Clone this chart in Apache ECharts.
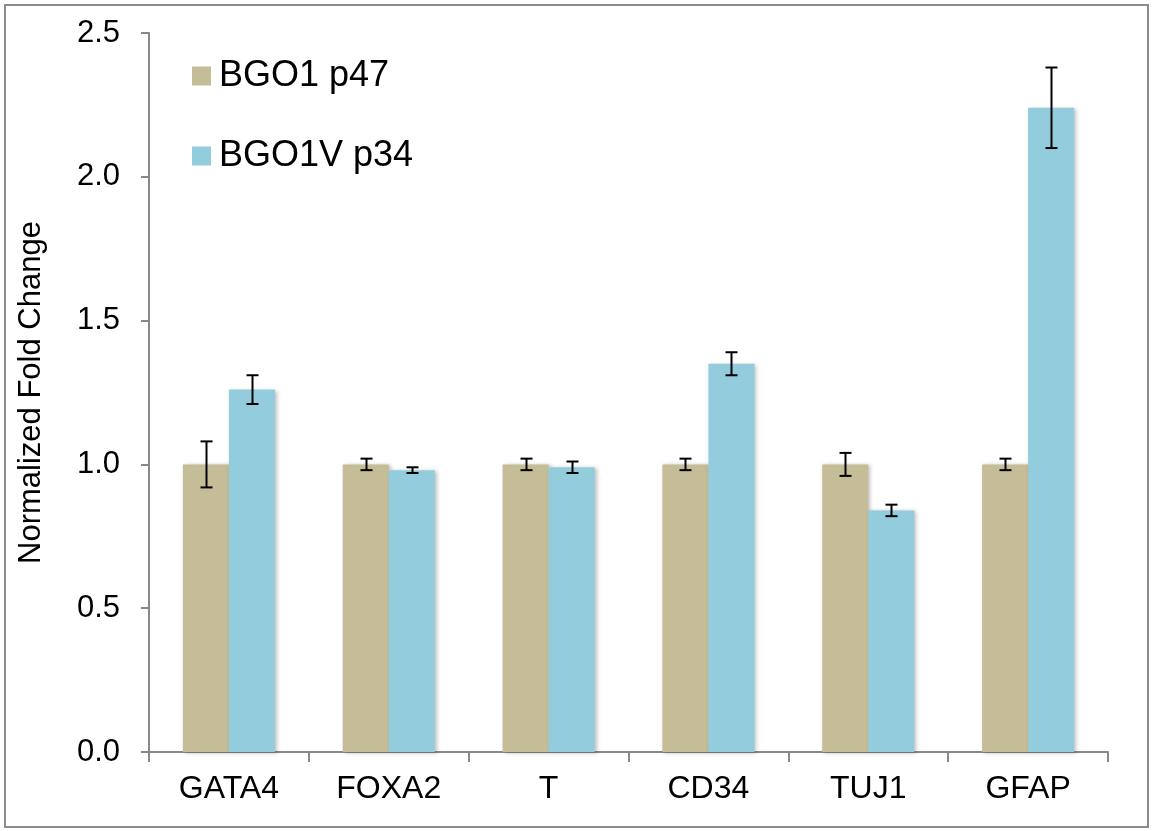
<!DOCTYPE html>
<html>
<head>
<meta charset="utf-8">
<script src="https://cdn.jsdelivr.net/npm/echarts@6/dist/echarts.min.js"></script>
<style>
html,body{margin:0;padding:0;background:#fff;}
#chart{width:1153px;height:831px;}
</style>
</head>
<body>
<div id="chart"></div>
<script>
const categories = ['GATA4', 'FOXA2', 'T', 'CD34', 'TUJ1', 'GFAP'];
const seriesNames = ['BGO1 p47', 'BGO1V p34'];
const bgo1Values = [1.00, 1.00, 1.00, 1.00, 1.00, 1.00];
const bgo1Errors = [0.08, 0.02, 0.02, 0.02, 0.04, 0.02];
const bgo1vValues = [1.26, 0.98, 0.99, 1.35, 0.84, 2.24];
const bgo1vErrors = [0.05, 0.01, 0.02, 0.04, 0.02, 0.14];
const yTicks = [0, 0.5, 1.0, 1.5, 2.0, 2.5];

const FONT = '"Liberation Sans", Arial, sans-serif';
const BAR_FRAC = 0.288;
const colors = ['#C4BD97', '#93CDDD'];

function errorSeries(values, errors, side) {
  return {
    type: 'custom',
    z: 10,
    silent: true,
    data: values.map((v, i) => [i, v, errors[i]]),
    renderItem: function (params, api) {
      const idx = api.value(0);
      const v = api.value(1);
      const e = api.value(2);
      const band = api.size([1, 0])[0];
      const off = side * band * BAR_FRAC / 2;
      const top = api.coord([idx, v + e]);
      const bot = api.coord([idx, v - e]);
      const x = Math.round(top[0] + off) + 0.5;
      const cap = 6;
      const style = { stroke: '#000', lineWidth: 2 };
      return {
        type: 'group',
        children: [
          { type: 'line', shape: { x1: x, y1: top[1], x2: x, y2: bot[1] }, style: style },
          { type: 'line', shape: { x1: x - cap, y1: top[1], x2: x + cap, y2: top[1] }, style: style },
          { type: 'line', shape: { x1: x - cap, y1: bot[1], x2: x + cap, y2: bot[1] }, style: style }
        ]
      };
    }
  };
}

const chart = echarts.init(document.getElementById('chart'), null, { renderer: 'canvas' });
const barShadow = { shadowBlur: 4, shadowColor: 'rgba(0,0,0,0.25)', shadowOffsetX: 2, shadowOffsetY: 1 };
chart.setOption({
  animation: false,
  backgroundColor: '#fff',
  textStyle: { fontFamily: FONT },
  graphic: [{
    type: 'rect', shape: { x: 5, y: 5, width: 1143, height: 822 },
    style: { fill: 'none', stroke: '#8c8c8c', lineWidth: 2 }, z: -1
  }],
  legend: {
    data: seriesNames,
    orient: 'vertical',
    left: 192,
    top: 58,
    itemWidth: 19,
    itemHeight: 19,
    itemGap: 44,
    icon: 'rect',
    textStyle: { fontFamily: FONT, fontSize: 36, color: '#000', padding: [0, 0, 0, 3] },
    padding: 0
  },
  grid: { left: 149, right: 45, top: 33, bottom: 79, containLabel: false },
  xAxis: {
    type: 'category',
    data: categories,
    axisLine: { lineStyle: { color: '#888', width: 2 } },
    axisTick: { show: true, length: 10, lineStyle: { color: '#888', width: 2 } },
    axisLabel: { fontFamily: FONT, fontSize: 32, color: '#000', margin: 21 }
  },
  yAxis: {
    type: 'value',
    min: 0,
    max: 2.5,
    interval: 0.5,
    name: 'Normalized Fold Change',
    nameLocation: 'middle',
    nameGap: 102,
    nameTextStyle: { fontFamily: FONT, fontSize: 31, color: '#000' },
    splitLine: { show: false },
    axisLine: { show: true, lineStyle: { color: '#888', width: 2 } },
    axisTick: { show: true, length: 8, lineStyle: { color: '#888', width: 2 } },
    axisLabel: {
      fontFamily: FONT, fontSize: 31, color: '#000', margin: 29,
      formatter: function (v) { return v.toFixed(1); }
    }
  },
  series: [
    {
      name: seriesNames[0], type: 'bar', data: bgo1Values, barWidth: (BAR_FRAC * 100) + '%', barGap: '0%',
      itemStyle: Object.assign({ color: colors[0] }, barShadow)
    },
    {
      name: seriesNames[1], type: 'bar', data: bgo1vValues, barWidth: (BAR_FRAC * 100) + '%', barGap: '0%',
      itemStyle: Object.assign({ color: colors[1] }, barShadow)
    },
    errorSeries(bgo1Values, bgo1Errors, -1),
    errorSeries(bgo1vValues, bgo1vErrors, 1)
  ]
});
</script>
</body>
</html>
